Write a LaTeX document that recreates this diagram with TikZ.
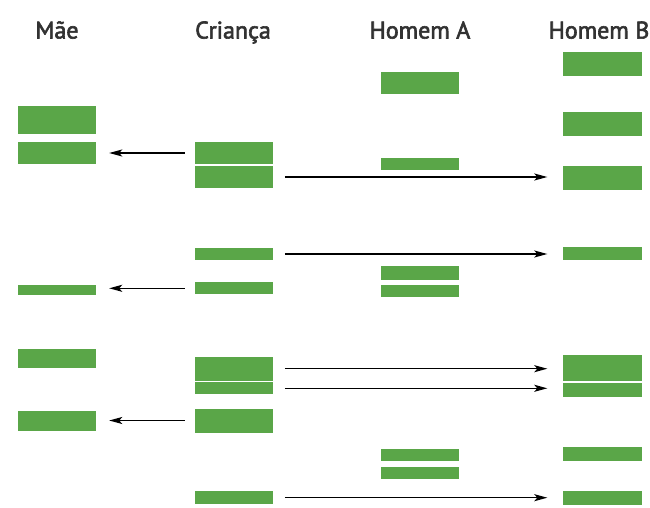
\documentclass[tikz,border=0pt]{standalone}
\usepackage{fontspec}
\setmainfont{PT Sans}
\newfontfamily\titlefont[FakeBold=2.5]{PT Sans}
\usepackage{xcolor}
\usetikzlibrary{arrows.meta,positioning}
\definecolor{geneGreen}{RGB}{90,166,72}
\definecolor{labelGray}{RGB}{50,50,50}

\begin{document}
\begin{tikzpicture}[x=1pt, y=-1pt,
  bar/.style={fill=geneGreen, inner sep=0pt, minimum width=78pt},
  head/.style={text=labelGray, anchor=base, font=\titlefont\fontsize{24}{25}\selectfont},
  seta/.style={-{Stealth[length=13pt,width=7pt,inset=3pt]}, line width=1.5pt}]
  \useasboundingbox (0,0) rectangle (650,508);

  \node[head] (mae) at (57,38.5) {Mãe};
  \node[head] (crianca) at (233,38.5) {Criança};
  \node[head] (homemA) at (420,38.5) {Homem A};
  \node[head] (homemB) at (599,38.5) {Homem B};

  \node[bar, minimum height=28pt] (m1) at (57,120) {};
  \node[bar, minimum height=22pt] (m2) at (57,153) {};
  \node[bar, minimum height=10pt] (m3) at (57,289.5) {};
  \node[bar, minimum height=19pt] (m4) at (57,358.7) {};
  \node[bar, minimum height=20pt] (m5) at (57,420.5) {};

  \node[bar, minimum height=22pt] (c1) at (233.7,153) {};
  \node[bar, minimum height=22pt] (c2) at (233.7,177) {};
  \node[bar, minimum height=12pt] (c3) at (233.7,254) {};
  \node[bar, minimum height=12pt] (c4) at (233.7,288.3) {};
  \node[bar, minimum height=24pt] (c5) at (233.7,368.7) {};
  \node[bar, minimum height=12pt] (c6) at (233.7,388.3) {};
  \node[bar, minimum height=24pt] (c7) at (233.7,420.5) {};
  \node[bar, minimum height=13pt] (c8) at (233.7,497.7) {};

  \node[bar, minimum height=22pt] (a1) at (420,83) {};
  \node[bar, minimum height=12pt] (a2) at (420,164) {};
  \node[bar, minimum height=14pt] (a3) at (420,273) {};
  \node[bar, minimum height=12pt] (a4) at (420,290.5) {};
  \node[bar, minimum height=12pt] (a5) at (420,454.7) {};
  \node[bar, minimum height=12pt] (a6) at (420,472.7) {};

  \node[bar, minimum height=24pt, minimum width=79pt] (b1) at (602,64) {};
  \node[bar, minimum height=24pt, minimum width=79pt] (b2) at (602,124) {};
  \node[bar, minimum height=24pt, minimum width=79pt] (b3) at (602,178) {};
  \node[bar, minimum height=13pt, minimum width=79pt] (b4) at (602,253.3) {};
  \node[bar, minimum height=26pt, minimum width=79pt] (b5) at (602,367.5) {};
  \node[bar, minimum height=14pt, minimum width=79pt] (b6) at (602,389.5) {};
  \node[bar, minimum height=14pt, minimum width=79pt] (b7) at (602,453.7) {};
  \node[bar, minimum height=14pt, minimum width=79pt] (b8) at (602,497.7) {};

  \draw[seta, shorten <=10pt, shorten >=13pt] (c1.west) -- (m2.east |- c1.west);
  \draw[seta, shorten <=10pt, shorten >=13pt] (c4.west) -- (m3.east |- c4.west);
  \draw[seta, shorten <=10pt, shorten >=13pt] (c7.west) -- (m5.east |- c7.west);

  \draw[seta, shorten <=12pt, shorten >=15pt] (c2.east) -- (b3.west |- c2.east);
  \draw[seta, shorten <=12pt, shorten >=15pt] (c3.east) -- (b4.west |- c3.east);
  \draw[seta, shorten <=12pt, shorten >=15pt] (c5.east) -- (b5.west |- c5.east);
  \draw[seta, shorten <=12pt, shorten >=15pt] (c6.east) -- (b6.west |- c6.east);
  \draw[seta, shorten <=12pt, shorten >=15pt] (c8.east) -- (b8.west |- c8.east);
\end{tikzpicture}
\end{document}
